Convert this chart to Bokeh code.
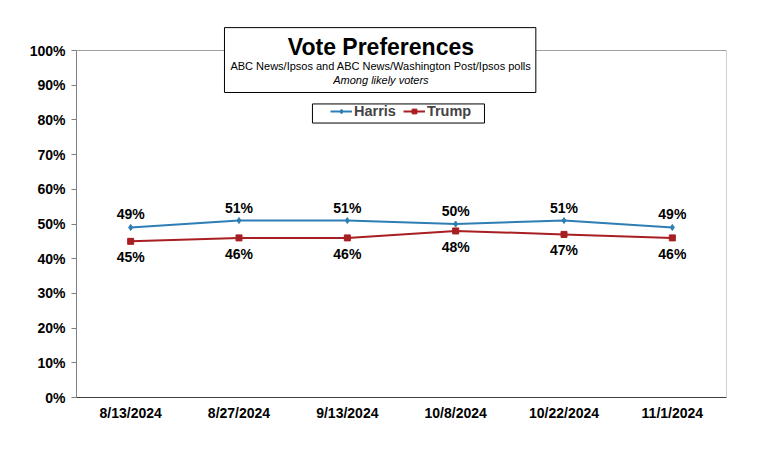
from bokeh.plotting import figure
from bokeh.models import (Range1d, FixedTicker, PrintfTickFormatter, Legend, LegendItem,
                          ColumnDataSource, Label)
from bokeh.core.properties import value
from bokeh.embed import file_html
from bokeh.resources import INLINE

dates = ["8/13/2024", "8/27/2024", "9/13/2024", "10/8/2024", "10/22/2024", "11/1/2024"]
harris = [49, 51, 51, 50, 51, 49]
trump = [45, 46, 46, 48, 47, 46]
y_ticks = [0, 10, 20, 30, 40, 50, 60, 70, 80, 90, 100]

FONT = "Liberation Sans"
BLUE = "#2E7EB5"
RED = "#A81E22"

p = figure(x_range=dates, y_range=Range1d(0, 108.65),
           frame_width=650, frame_height=377,
           min_border_left=76, min_border_right=22, min_border_top=20, min_border_bottom=43,
           output_backend="svg", toolbar_location=None)
p.outline_line_color = None
p.xgrid.visible = False
p.ygrid.visible = False
p.background_fill_color = "white"

# y axis
ya = p.yaxis[0]
ya.ticker = FixedTicker(ticks=y_ticks)
ya.bounds = (0, 100)
ya.formatter = PrintfTickFormatter(format="%d%%")
ya.major_tick_in = 0
ya.major_tick_out = 5
ya.minor_tick_line_color = None
ya.axis_line_color = "#808080"
ya.major_tick_line_color = "#808080"
ya.major_label_text_font = FONT
ya.major_label_text_font_style = "bold"
ya.major_label_text_font_size = "14px"
ya.major_label_text_color = "black"
ya.major_label_standoff = 6

xa = p.xaxis[0]
xa.axis_line_color = "#404040"
xa.major_tick_line_color = None
xa.major_tick_out = 0
xa.major_tick_in = 0
xa.minor_tick_line_color = None
xa.major_label_text_font = FONT
xa.major_label_text_font_style = "bold"
xa.major_label_text_font_size = "14px"
xa.major_label_text_color = "black"
xa.major_label_standoff = 7

# top and right frame border
p.segment(x0=[0, 6], y0=[100, 0], x1=[6, 6], y1=[100, 100], line_color="#a0a0a0", line_width=1)

src = ColumnDataSource(dict(d=dates, h=harris, t=trump,
                            hl=[f"{v}%" for v in harris], tl=[f"{v}%" for v in trump]))

hl = p.line("d", "h", source=src, line_color=BLUE, line_width=2)
hm = p.scatter("d", "h", source=src, marker="diamond", size=6, color=BLUE)
tl = p.line("d", "t", source=src, line_color=RED, line_width=2)
tm = p.scatter("d", "t", source=src, marker="square", size=6, color=RED)

p.text("d", "h", text="hl", source=src, text_align="center", text_baseline="middle",
       y_offset=-13, text_font=value(FONT), text_font_style="bold", text_font_size="14px",
       text_color="black")
p.text("d", "t", text="tl", source=src, text_align="center", text_baseline="middle",
       y_offset=16, text_font=value(FONT), text_font_style="bold", text_font_size="14px",
       text_color="black")

# title box
TX = 2.81
p.quad(left=[1.366], right=[4.24], top=[106.6], bottom=[87.9],
       fill_color="white", line_color="black", line_width=1)
p.add_layout(Label(x=TX, y=100.9, text="Vote Preferences", text_align="center",
                   text_baseline="middle", text_font=FONT, text_font_style="bold",
                   text_font_size="23px", text_color="black"))
p.add_layout(Label(x=TX, y=95.4, text="ABC News/Ipsos and ABC News/Washington Post/Ipsos polls",
                   text_align="center", text_baseline="middle", text_font=FONT,
                   text_font_size="11px", text_color="black"))
p.add_layout(Label(x=TX, y=91.4, text="Among likely voters", text_align="center",
                   text_baseline="middle", text_font=FONT, text_font_style="italic",
                   text_font_size="11px", text_color="black"))

# legend box
p.quad(left=[2.178], right=[3.766], top=[84.6], bottom=[79.1],
       fill_color="white", line_color="black", line_width=1)
legend = Legend(items=[LegendItem(label="Harris", renderers=[hl, hm]),
                       LegendItem(label="Trump", renderers=[tl, tm])],
                orientation="horizontal", location=(254, 278),
                glyph_width=22, glyph_height=12, label_standoff=2, padding=0, spacing=7,
                margin=0, border_line_color=None, background_fill_alpha=0,
                label_text_font=FONT, label_text_font_style="bold", label_text_font_size="14.5px",
                label_height=12)
p.add_layout(legend, "center")

open("out.html", "w").write(file_html(p, INLINE))
